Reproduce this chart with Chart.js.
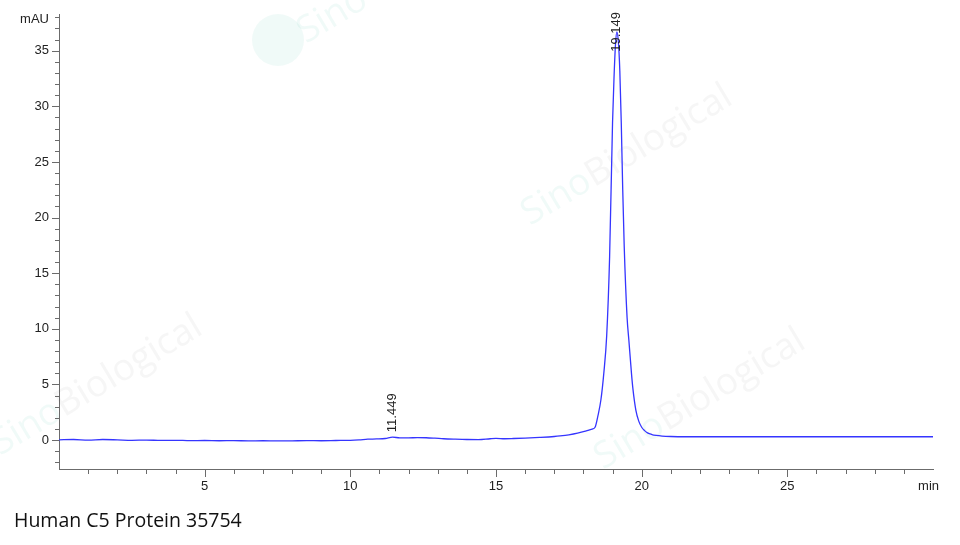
<!DOCTYPE html>
<html>
<head>
<meta charset="utf-8">
<script src="https://cdn.jsdelivr.net/npm/chart.js@4"></script>
<style>
  body { margin: 0; background: #fff; }
  #wrap { position: absolute; left: 0; top: 0; width: 960px; height: 545px; }
  #caption { position: absolute; left: 14px; top: 506px; font-family: "Open Sans", sans-serif; font-size: 19.5px; color: #111; white-space: nowrap; }
</style>
</head>
<body>
<div id="wrap"><canvas id="chart"></canvas></div>
<div id="caption">Human C5 Protein 35754</div>
<script>
// Datos del cromatograma (min, mAU)
const times = [0, 0.5, 1, 1.5, 2, 2.5, 3, 3.5, 4, 4.5, 5, 5.5, 6, 6.5, 7, 7.5, 8, 8.5, 9, 9.5,
  10, 10.3, 10.6, 10.9, 11.2, 11.45, 11.7, 12.0, 12.3, 12.6, 12.9, 13.2, 13.6, 14.0, 14.4, 14.8,
  15.0, 15.3, 15.6, 16.0, 16.5, 17.0, 17.2, 17.5, 17.8, 18.1, 18.3, 18.4, 18.5, 18.6, 18.7, 18.8,
  18.9, 19.0, 19.05, 19.1, 19.15, 19.2, 19.25, 19.3, 19.35, 19.4, 19.5, 19.56, 19.65, 19.7, 19.8,
  19.9, 20.0, 20.1, 20.2, 20.35, 20.5, 20.7, 21.0, 21.5, 22, 23, 24, 25, 26, 27, 28, 29, 30];
const absorbance = [0.02, 0.05, 0.0, 0.05, 0.02, -0.02, 0.0, -0.03, -0.02, -0.05, -0.04, -0.06, -0.05, -0.07, -0.06, -0.08, -0.07, -0.05, -0.06, -0.04,
  -0.02, 0.02, 0.08, 0.1, 0.14, 0.26, 0.2, 0.2, 0.22, 0.21, 0.17, 0.12, 0.08, 0.05, 0.04, 0.12,
  0.15, 0.12, 0.14, 0.18, 0.24, 0.32, 0.37, 0.47, 0.62, 0.83, 0.98, 1.15, 2.2, 3.6, 6.0, 9.4,
  16.5, 28.5, 32.5, 35.5, 36.7, 35.8, 33.2, 28.5, 22.5, 17.5, 11.0, 9.0, 6.0, 4.6, 2.7,
  1.7, 1.15, 0.85, 0.65, 0.5, 0.42, 0.36, 0.32, 0.3, 0.3, 0.3, 0.3, 0.3, 0.3, 0.3, 0.3, 0.3, 0.3];

// Picos anotados
const peakTimes = [11.449, 19.149];
const peakHeights = [0.26, 36.7];
const peakLabels = ['11.449', '19.149'];

// Ejes
const xTickValues = [5, 10, 15, 20, 25];
const yTickValues = [0, 5, 10, 15, 20, 25, 30, 35];
const xMin = 0, xMax = 30, yMin = -2.6, yMax = 38.3;

const axisColor = '#6b6b6b';
const tickFont = { family: 'Liberation Sans', size: 13 };

// Marcas de agua
const watermarkPlugin = {
  id: 'watermark',
  beforeDatasetsDraw(chart) {
    const ctx = chart.ctx;
    const marks = [[530, 226], [603, 470], [0, 456]];
    const angle = -31 * Math.PI / 180;
    ctx.save();
    ctx.font = '37px "Open Sans", sans-serif';
    ctx.textBaseline = 'alphabetic';
    marks.forEach(([x, y]) => {
      ctx.save();
      ctx.translate(x, y);
      ctx.rotate(angle);
      ctx.fillStyle = 'rgba(0, 175, 135, 0.06)';
      ctx.fillText('Sino', 0, 0);
      const w = ctx.measureText('Sino').width;
      ctx.fillStyle = 'rgba(110, 110, 110, 0.06)';
      ctx.fillText('Biological', w, 0);
      ctx.restore();
    });
    // logo superior
    ctx.fillStyle = 'rgba(0, 175, 135, 0.06)';
    ctx.beginPath();
    ctx.arc(278, 40, 26, 0, Math.PI * 2);
    ctx.fill();
    ctx.save();
    ctx.translate(306, 44);
    ctx.rotate(angle);
    ctx.fillText('Sino Biological', 0, 0);
    ctx.restore();
    ctx.restore();
  }
};

// Marcas menores, títulos de ejes y etiquetas de picos
const decorPlugin = {
  id: 'decor',
  afterDraw(chart) {
    const ctx = chart.ctx;
    const xs = chart.scales.x, ys = chart.scales.y;
    const area = chart.chartArea;
    ctx.save();
    ctx.strokeStyle = axisColor;
    ctx.lineWidth = 1;
    ctx.beginPath();
    for (let v = Math.ceil(yMin); v <= Math.floor(yMax); v++) {
      const py = Math.round(ys.getPixelForValue(v)) + 0.5;
      const len = v % 5 === 0 ? 7 : 4;
      ctx.moveTo(area.left - len, py);
      ctx.lineTo(area.left, py);
    }
    for (let v = 1; v < xMax; v++) {
      const px = Math.round(xs.getPixelForValue(v)) + 0.5;
      const len = v % 5 === 0 ? 8 : 5;
      ctx.moveTo(px, area.bottom);
      ctx.lineTo(px, area.bottom + len);
    }
    ctx.stroke();

    ctx.fillStyle = '#222';
    ctx.font = '13px "Liberation Sans"';
    ctx.textAlign = 'right';
    ctx.textBaseline = 'middle';
    ctx.fillText('mAU', area.left - 10, 19);
    ctx.fillText('min', 939, 486);

    ctx.textAlign = 'left';
    peakTimes.forEach((t, i) => {
      const px = xs.getPixelForValue(t);
      const py = ys.getPixelForValue(peakHeights[i]);
      const w = ctx.measureText(peakLabels[i]).width;
      const start = Math.max(py - 5, 12 + w);
      ctx.save();
      ctx.translate(px, start);
      ctx.rotate(-Math.PI / 2);
      ctx.fillText(peakLabels[i], 0, 0);
      ctx.restore();
    });
    ctx.restore();
  }
};

const ctx = document.getElementById('chart').getContext('2d');
new Chart(ctx, {
  type: 'line',
  data: {
    datasets: [{
      data: times.map((t, i) => ({ x: t, y: absorbance[i] })),
      borderColor: '#3535ff',
      borderWidth: 1.3,
      pointRadius: 0,
      cubicInterpolationMode: 'monotone',
      fill: false
    }]
  },
  options: {
    responsive: true,
    maintainAspectRatio: false,
    animation: false,
    layout: { padding: { left: 0, top: 14, right: 27, bottom: 46 } },
    plugins: { legend: { display: false }, tooltip: { enabled: false } },
    scales: {
      x: {
        type: 'linear',
        min: xMin,
        max: xMax,
        afterBuildTicks: axis => { axis.ticks = xTickValues.map(v => ({ value: v })); },
        afterFit: scale => { scale.height = 30; scale.paddingLeft = 0; scale.paddingRight = 0; },
        grid: { display: false, drawTicks: false },
        border: { color: axisColor, width: 1 },
        ticks: { color: '#222', font: tickFont, padding: 10, maxRotation: 0, autoSkip: false }
      },
      y: {
        type: 'linear',
        min: yMin,
        max: yMax,
        afterBuildTicks: axis => { axis.ticks = yTickValues.map(v => ({ value: v })); },
        afterFit: scale => { scale.width = 59; scale.paddingTop = 0; scale.paddingBottom = 0; },
        grid: { display: false, drawTicks: false },
        border: { color: axisColor, width: 1 },
        ticks: { color: '#222', font: tickFont, padding: 10, autoSkip: false }
      }
    }
  },
  plugins: [watermarkPlugin, decorPlugin]
});
</script>
</body>
</html>
